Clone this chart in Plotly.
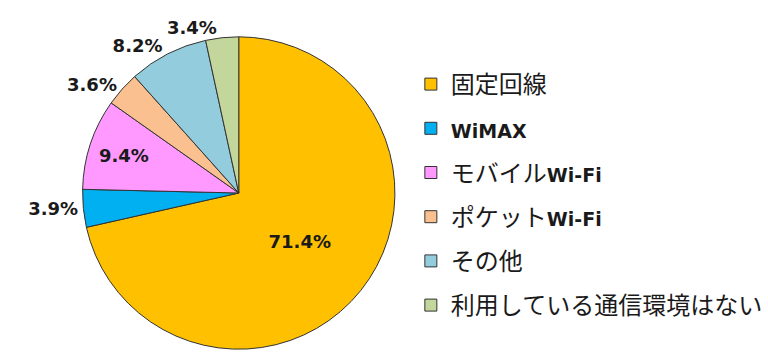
import plotly.graph_objects as go

categories = ["固定回線", "WiMAX", "モバイルWi-Fi", "ポケットWi-Fi", "その他", "利用している通信環境はない"]
values = [71.4, 3.9, 9.4, 3.6, 8.2, 3.4]
colors = ["#FFC000", "#00B0F0", "#FF99FF", "#FAC090", "#93CDDD", "#C3D69B"]
text_positions = ["inside", "outside", "inside", "outside", "outside", "none"]
# the last label is drawn by a transparent overlay pie so that it is not
# pushed away (with a leader line) by its neighbour's label
overlay_positions = ["none", "none", "none", "none", "none", "outside"]

LAT = "font-family:'DejaVu Sans';font-weight:bold;font-size:19px"


def legend_label(name):
    # Latin parts rendered in a bold sans, Japanese parts in CJK font
    out = ""
    buf = ""
    is_lat = None
    for ch in name:
        lat = ord(ch) < 0x3000
        if is_lat is None or lat == is_lat:
            buf += ch
        else:
            out += f"<span style=\"{LAT}\">{buf}</span>" if is_lat else buf
            buf = ch
        is_lat = lat
    out += f"<span style=\"{LAT}\">{buf}</span>" if is_lat else buf
    return out


domain = dict(x=[(240 - 157) / 768, (240 + 157) / 768],
              y=[(169 - 157) / 362, (169 + 157) / 362])
label_font = dict(family="DejaVu Sans", size=18, color="#1a1a1a", weight="bold")

fig = go.Figure()
fig.add_trace(go.Pie(
    labels=categories,
    values=values,
    sort=False,
    direction="clockwise",
    rotation=0,
    marker=dict(colors=colors, line=dict(color="#333333", width=1)),
    texttemplate="%{value:.1f}%",
    textposition=text_positions,
    insidetextorientation="horizontal",
    textfont=label_font,
    showlegend=False,
    hoverinfo="label+value",
    domain=domain,
))
fig.add_trace(go.Pie(
    labels=categories,
    values=values,
    sort=False,
    direction="clockwise",
    rotation=0,
    marker=dict(colors=["rgba(0,0,0,0)"] * len(values), line=dict(width=0)),
    texttemplate="%{value:.1f}%",
    textposition=overlay_positions,
    textfont=label_font,
    showlegend=False,
    hoverinfo="skip",
    domain=domain,
))

for i, (name, col) in enumerate(zip(categories, colors)):
    fig.add_trace(go.Scatter(
        x=[None], y=[None], mode="markers",
        name=legend_label(name),
        legendgroup=f"g{i}",
        marker=dict(symbol="square", size=12, color=col, line=dict(color="#333333", width=1)),
    ))

fig.update_layout(
    width=768, height=362,
    margin=dict(l=0, r=0, t=0, b=0),
    paper_bgcolor="white", plot_bgcolor="white",
    xaxis=dict(visible=False), yaxis=dict(visible=False),
    showlegend=True,
    legend=dict(
        x=413 / 768, y=1 - 62 / 362, xanchor="left", yanchor="top",
        font=dict(family="Noto Sans CJK JP", size=24, color="#1a1a1a"),
        tracegroupgap=10,
        bgcolor="rgba(0,0,0,0)",
        itemclick=False,
    ),
)

fig.write_html("out.html", config={"displayModeBar": False},
               post_script="document.body.style.margin='0';")
